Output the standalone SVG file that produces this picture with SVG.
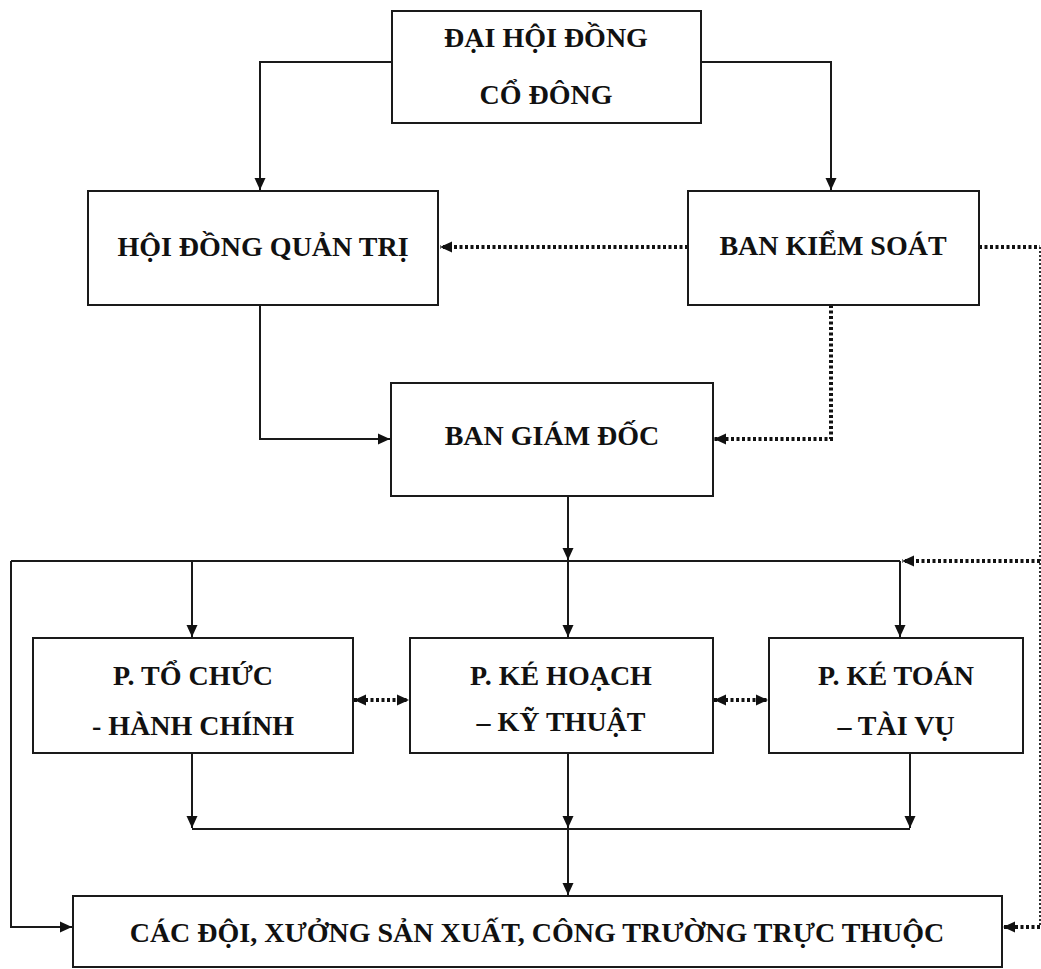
<svg xmlns="http://www.w3.org/2000/svg" width="1041" height="969" viewBox="0 0 1041 969">
<style>
.box{fill:#fff;stroke:#1a1a1a;stroke-width:2}
.t{font-family:"Liberation Serif","Times New Roman",serif;font-weight:bold;font-size:28px;fill:#111;text-anchor:middle}
.s{fill:none;stroke:#1a1a1a;stroke-width:2}
.d{fill:none;stroke:#111;stroke-width:4;stroke-dasharray:3 2.5}
.dt{fill:none;stroke:#1a1a1a;stroke-width:1.8;stroke-dasharray:2 2}
</style>
<defs>
<marker id="ar" markerUnits="userSpaceOnUse" markerWidth="13" markerHeight="12" refX="12" refY="6" orient="auto-start-reverse">
<path d="M0,0.5 L12,6 L0,11.5 z" fill="#111"/>
</marker>
</defs>
<rect width="1041" height="969" fill="#fff"/>
<g id="connectors">
<path class="s" d="M392,62 H260 V190" marker-end="url(#ar)"/>
<path class="s" d="M701,62 H831 V190" marker-end="url(#ar)"/>
<path class="d" d="M688,247 H440" marker-end="url(#ar)"/>
<path class="s" d="M260,305 V439 H390" marker-end="url(#ar)"/>
<path class="d" d="M831,305 V439 H714" marker-end="url(#ar)"/>
<path class="d" d="M979,247 H1040"/>
<path class="dt" d="M1040,247 V927"/>
<path class="d" d="M1040,927 H1003" marker-end="url(#ar)"/>
<path class="d" d="M1040,561 H902" marker-end="url(#ar)"/>
<path class="s" d="M568,496 V560" marker-end="url(#ar)"/>
<path class="s" d="M11,561 H900"/>
<path class="s" d="M192,561 V637" marker-end="url(#ar)"/>
<path class="s" d="M568,561 V637" marker-end="url(#ar)"/>
<path class="s" d="M900,561 V637" marker-end="url(#ar)"/>
<path class="s" d="M11,561 V927 H72" marker-end="url(#ar)"/>
<path class="d" d="M354,700 H409" marker-start="url(#ar)" marker-end="url(#ar)"/>
<path class="d" d="M714,700 H768" marker-start="url(#ar)" marker-end="url(#ar)"/>
<path class="s" d="M192,753 V828" marker-end="url(#ar)"/>
<path class="s" d="M568,753 V828" marker-end="url(#ar)"/>
<path class="s" d="M910,753 V828" marker-end="url(#ar)"/>
<path class="s" d="M192,829 H910"/>
<path class="s" d="M568,829 V895" marker-end="url(#ar)"/>
</g>
<g id="dhdcd">
<rect class="box" x="392" y="11" width="309" height="112"/>
<text class="t" x="546" y="47">ĐẠI HỘI ĐỒNG</text>
<text class="t" x="546" y="104">CỔ ĐÔNG</text>
</g>
<g id="hdqt">
<rect class="box" x="88" y="191" width="350" height="114"/>
<text class="t" x="263" y="256">HỘI ĐỒNG QUẢN TRỊ</text>
</g>
<g id="bks">
<rect class="box" x="688" y="191" width="291" height="114"/>
<text class="t" x="833" y="255">BAN KIỂM SOÁT</text>
</g>
<g id="bgd">
<rect class="box" x="391" y="383" width="322" height="113"/>
<text class="t" x="552" y="445">BAN GIÁM ĐỐC</text>
</g>
<g id="ptc">
<rect class="box" x="33" y="638" width="320" height="115"/>
<text class="t" x="193" y="685">P. TỔ CHỨC</text>
<text class="t" x="193" y="735">- HÀNH CHÍNH</text>
</g>
<g id="pkh">
<rect class="box" x="410" y="638" width="303" height="115"/>
<text class="t" x="561" y="685">P. KÉ HOẠCH</text>
<text class="t" x="561" y="731">– KỸ THUẬT</text>
</g>
<g id="pkt">
<rect class="box" x="769" y="638" width="254" height="115"/>
<text class="t" x="896" y="685">P. KÉ TOÁN</text>
<text class="t" x="896" y="735">– TÀI VỤ</text>
</g>
<g id="cacdoi">
<rect class="box" x="73" y="896" width="929" height="71"/>
<text class="t" x="537" y="942">CÁC ĐỘI, XƯỞNG SẢN XUẤT, CÔNG TRƯỜNG TRỰC THUỘC</text>
</g>
</svg>
